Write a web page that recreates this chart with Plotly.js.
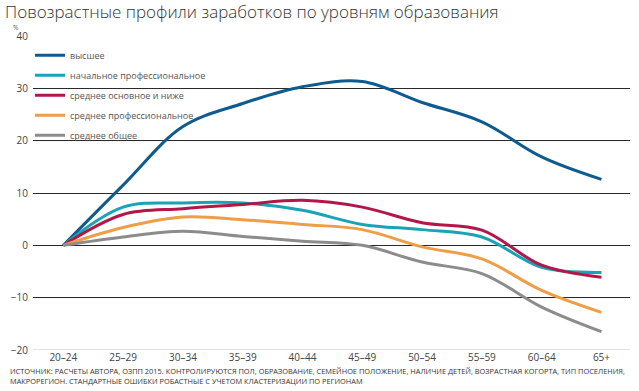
<!DOCTYPE html>
<html>
<head>
<meta charset="utf-8">
<script src="https://cdn.plot.ly/plotly-3.0.1.min.js"></script>
<style>html,body{margin:0;padding:0;background:#fff;}#chart{width:639px;height:391px;}</style>
</head>
<body>
<div id="chart"></div>
<script>
const ageGroups = ["20–24","25–29","30–34","35–39","40–44","45–49","50–54","55–59","60–64","65+"];
const seriesNames = ["высшее","начальное профессиональное","среднее основное и ниже","среднее профессиональное","среднее общее"];
const higher      = [0, 11.5, 22.7, 27.1, 30.3, 31.3, 27.3, 23.6, 16.9, 12.6];
const primaryProf = [0, 7.3, 8.1, 8.1, 6.7, 4.0, 3.0, 1.6, -4.2, -5.2];
const basicLower  = [0, 5.9, 7.0, 7.8, 8.6, 7.3, 4.3, 2.9, -3.8, -6.1];
const secondProf  = [0, 3.4, 5.4, 4.9, 4.0, 3.0, -0.3, -2.6, -8.6, -12.8];
const generalSec  = [0, 1.6, 2.7, 1.7, 0.8, 0.0, -3.2, -5.4, -11.8, -16.5];
const yTicks = [-20, -10, 0, 10, 20, 30, 40];
const lightGrid = [20, -10, -20];

const colors = ["#0d5b8f", "#1aa2b6", "#b3174a", "#ef9d47", "#8c8c8c"];
const values = [higher, primaryProf, basicLower, secondProf, generalSec];

const traces = values.map((v, i) => ({
  x: ageGroups, y: v, type: "scatter", mode: "lines",
  name: seriesNames[i], legendgroup: "g" + i,
  line: {color: colors[i], width: 3, shape: "spline", smoothing: 1}
}));

const font = "Open Sans, Noto Sans, sans-serif";
const layout = {
  width: 639, height: 391,
  margin: {l: 33, r: 9, t: 36, b: 41},
  paper_bgcolor: "#fff", plot_bgcolor: "#fff",
  font: {family: font, color: "#444", size: 10},
  title: {text: "Повозрастные профили заработков по уровням образования",
          x: 0.008, xanchor: "left", y: 0.984, yanchor: "top",
          font: {family: font, size: 17, color: "#333", weight: 300}},
  showlegend: true,
  legend: {x: -0.005, y: 0.985, xanchor: "left", yanchor: "top", bgcolor: "rgba(0,0,0,0)",
           font: {size: 9, color: "#555"}, tracegroupgap: 1, traceorder: "grouped"},
  xaxis: {type: "category", range: [-0.507, 9.477], showgrid: false, zeroline: false,
          showline: false, ticks: "", tickfont: {size: 10, color: "#444"}, fixedrange: true},
  yaxis: {range: [-20, 40], tickvals: yTicks, showgrid: true, gridcolor: "#2a2a2a", gridwidth: 1,
          zeroline: false, showline: false, ticks: "", tickfont: {size: 10, color: "#444"},
          ticklabelstandoff: 4, fixedrange: true},
  shapes: lightGrid.map(v => ({type: "line", xref: "paper", x0: 0, x1: 1, yref: "y", y0: v, y1: v,
          layer: "between", line: {color: "#c4c4c4", width: 1}})),
  annotations: [
    {text: "%", xref: "paper", yref: "paper", x: -0.028, y: 1.026, xanchor: "center", yanchor: "middle",
     showarrow: false, font: {size: 6.5, color: "#555"}},
    {text: "ИСТОЧНИК: РАСЧЕТЫ АВТОРА, ОЗПП 2015. КОНТРОЛИРУЮТСЯ ПОЛ, ОБРАЗОВАНИЕ, СЕМЕЙНОЕ ПОЛОЖЕНИЕ, НАЛИЧИЕ ДЕТЕЙ, ВОЗРАСТНАЯ КОГОРТА, ТИП ПОСЕЛЕНИЯ,<br>МАКРОРЕГИОН. СТАНДАРТНЫЕ ОШИБКИ РОБАСТНЫЕ С УЧЕТОМ КЛАСТЕРИЗАЦИИ ПО РЕГИОНАМ",
     xref: "paper", yref: "paper", x: -0.042, y: -0.045, xanchor: "left", yanchor: "top", align: "left",
     showarrow: false, font: {size: 7.4, color: "#333"}}
  ]
};
Plotly.newPlot("chart", traces, layout, {displayModeBar: false, staticPlot: true});
</script>
</body>
</html>
